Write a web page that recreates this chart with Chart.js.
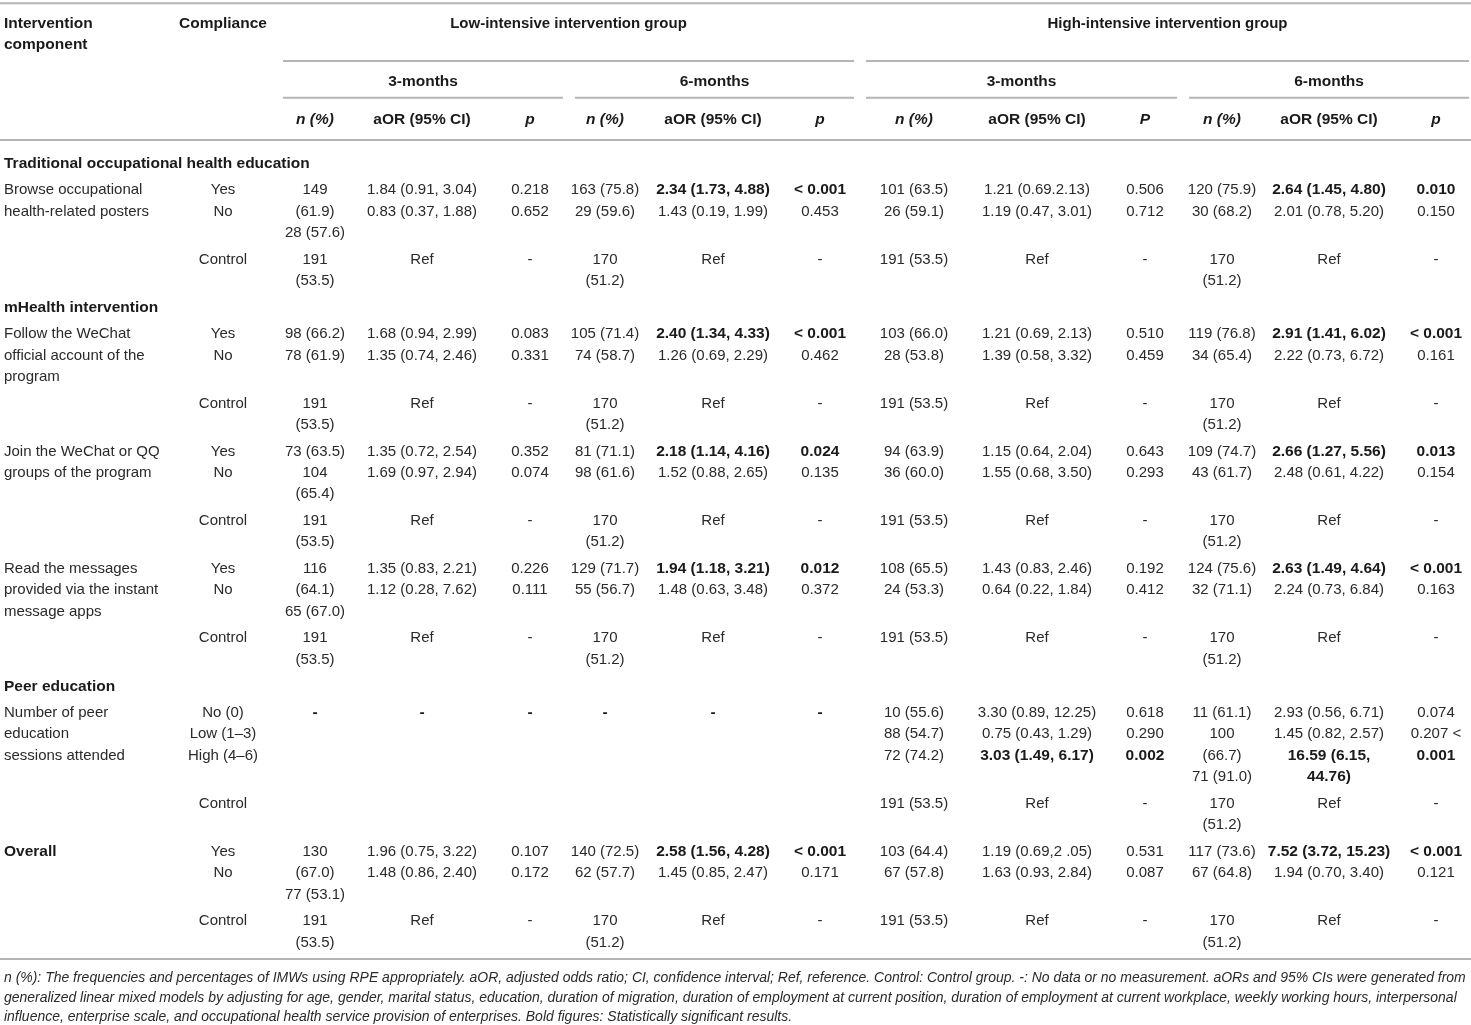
<!DOCTYPE html>
<html>
<head>
<meta charset="utf-8">
<script src="https://cdn.jsdelivr.net/npm/chart.js@4.4.1/dist/chart.umd.min.js"></script>
<style>
  html, body { margin: 0; padding: 0; background: #fff; }
  #wrap { width: 1471px; height: 1025px; }
</style>
</head>
<body>
<div id="wrap"><canvas id="table" width="1471" height="1025"></canvas></div>
<script>
// ---- table content (a leading "**" marks bold figures) ----
const groupHeads = ['Low-intensive intervention group', 'High-intensive intervention group'];
const periodHeads = ['3-months', '6-months', '3-months', '6-months'];
const columnHeads = ['n (%)', 'aOR (95% CI)', 'p', 'n (%)', 'aOR (95% CI)', 'p',
                     'n (%)', 'aOR (95% CI)', 'P', 'n (%)', 'aOR (95% CI)', 'p'];
const italicHeads = ['n (%)', 'p', 'P'];

const controlRow = [[], ['Control'], ['191', '(53.5)'], ['Ref'], ['-'], ['170', '(51.2)'], ['Ref'], ['-'],
                    ['191 (53.5)'], ['Ref'], ['-'], ['170', '(51.2)'], ['Ref'], ['-']];
const peerControlRow = [[], ['Control'], [], [], [], [], [], [],
                        ['191 (53.5)'], ['Ref'], ['-'], ['170', '(51.2)'], ['Ref'], ['-']];

const postersRow = [
  ['Browse occupational', 'health-related posters'], ['Yes', 'No'],
  ['149', '(61.9)', '28 (57.6)'], ['1.84 (0.91, 3.04)', '0.83 (0.37, 1.88)'], ['0.218', '0.652'],
  ['163 (75.8)', '29 (59.6)'], ['**2.34 (1.73, 4.88)', '1.43 (0.19, 1.99)'], ['**< 0.001', '0.453'],
  ['101 (63.5)', '26 (59.1)'], ['1.21 (0.69.2.13)', '1.19 (0.47, 3.01)'], ['0.506', '0.712'],
  ['120 (75.9)', '30 (68.2)'], ['**2.64 (1.45, 4.80)', '2.01 (0.78, 5.20)'], ['**0.010', '0.150']
];
const wechatRow = [
  ['Follow the WeChat', 'official account of the', 'program'], ['Yes', 'No'],
  ['98 (66.2)', '78 (61.9)'], ['1.68 (0.94, 2.99)', '1.35 (0.74, 2.46)'], ['0.083', '0.331'],
  ['105 (71.4)', '74 (58.7)'], ['**2.40 (1.34, 4.33)', '1.26 (0.69, 2.29)'], ['**< 0.001', '0.462'],
  ['103 (66.0)', '28 (53.8)'], ['1.21 (0.69, 2.13)', '1.39 (0.58, 3.32)'], ['0.510', '0.459'],
  ['119 (76.8)', '34 (65.4)'], ['**2.91 (1.41, 6.02)', '2.22 (0.73, 6.72)'], ['**< 0.001', '0.161']
];
const groupsRow = [
  ['Join the WeChat or QQ', 'groups of the program'], ['Yes', 'No'],
  ['73 (63.5)', '104', '(65.4)'], ['1.35 (0.72, 2.54)', '1.69 (0.97, 2.94)'], ['0.352', '0.074'],
  ['81 (71.1)', '98 (61.6)'], ['**2.18 (1.14, 4.16)', '1.52 (0.88, 2.65)'], ['**0.024', '0.135'],
  ['94 (63.9)', '36 (60.0)'], ['1.15 (0.64, 2.04)', '1.55 (0.68, 3.50)'], ['0.643', '0.293'],
  ['109 (74.7)', '43 (61.7)'], ['**2.66 (1.27, 5.56)', '2.48 (0.61, 4.22)'], ['**0.013', '0.154']
];
const messagesRow = [
  ['Read the messages', 'provided via the instant', 'message apps'], ['Yes', 'No'],
  ['116', '(64.1)', '65 (67.0)'], ['1.35 (0.83, 2.21)', '1.12 (0.28, 7.62)'], ['0.226', '0.111'],
  ['129 (71.7)', '55 (56.7)'], ['**1.94 (1.18, 3.21)', '1.48 (0.63, 3.48)'], ['**0.012', '0.372'],
  ['108 (65.5)', '24 (53.3)'], ['1.43 (0.83, 2.46)', '0.64 (0.22, 1.84)'], ['0.192', '0.412'],
  ['124 (75.6)', '32 (71.1)'], ['**2.63 (1.49, 4.64)', '2.24 (0.73, 6.84)'], ['**< 0.001', '0.163']
];
const peerRow = [
  ['Number of peer', 'education', 'sessions attended'], ['No (0)', 'Low (1–3)', 'High (4–6)'],
  ['**-'], ['**-'], ['**-'], ['**-'], ['**-'], ['**-'],
  ['10 (55.6)', '88 (54.7)', '72 (74.2)'], ['3.30 (0.89, 12.25)', '0.75 (0.43, 1.29)', '**3.03 (1.49, 6.17)'],
  ['0.618', '0.290', '**0.002'],
  ['11 (61.1)', '100', '(66.7)', '71 (91.0)'], ['2.93 (0.56, 6.71)', '1.45 (0.82, 2.57)', '**16.59 (6.15,', '**44.76)'],
  ['0.074', '0.207 <', '**0.001']
];
const overallRow = [
  ['**Overall'], ['Yes', 'No'],
  ['130', '(67.0)', '77 (53.1)'], ['1.96 (0.75, 3.22)', '1.48 (0.86, 2.40)'], ['0.107', '0.172'],
  ['140 (72.5)', '62 (57.7)'], ['**2.58 (1.56, 4.28)', '1.45 (0.85, 2.47)'], ['**< 0.001', '0.171'],
  ['103 (64.4)', '67 (57.8)'], ['1.19 (0.69,2 .05)', '1.63 (0.93, 2.84)'], ['0.531', '0.087'],
  ['117 (73.6)', '67 (64.8)'], ['**7.52 (3.72, 15.23)', '1.94 (0.70, 3.40)'], ['**< 0.001', '0.121']
];

const bodyRows = [
  'Traditional occupational health education', postersRow, controlRow,
  'mHealth intervention', wechatRow, controlRow, groupsRow, controlRow, messagesRow, controlRow,
  'Peer education', peerRow, peerControlRow,
  overallRow, controlRow
];

const footnotes = [
  'n (%): The frequencies and percentages of IMWs using RPE appropriately. aOR, adjusted odds ratio; CI, confidence interval; Ref, reference. Control: Control group. -: No data or no measurement. aORs and 95% CIs were generated from',
  'generalized linear mixed models by adjusting for age, gender, marital status, education, duration of migration, duration of employment at current position, duration of employment at current workplace, weekly working hours, interpersonal',
  'influence, enterprise scale, and occupational health service provision of enterprises. Bold figures: Statistically significant results.'
];

// ---- layout ----
const colX = [4, 223, 315, 422, 530, 605, 713, 820, 914, 1037, 1145, 1222, 1329, 1436];
const groupSpans = [[283, 854], [866, 1469]];
const periodSpans = [[283, 563], [575, 854], [866, 1177], [1189, 1469]];
const LINE = 21.4, GAP = 5.2, NUDGE = 1.5;
const FONT = '"Liberation Sans", Arial, Helvetica, sans-serif';
const TEXT = '#2a2a2a', RULE = '#b5b5b5';

const tablePlugin = {
  id: 'tableText',
  afterDraw(chart) {
    const { ctx, scales: { x, y } } = chart;
    const px = v => x.getPixelForValue(v);
    const py = v => y.getPixelForValue(v);

    const text = (str, xv, yv, align, opts = {}) => {
      let bold = opts.bold || false;
      if (str.startsWith('**')) { bold = true; str = str.slice(2); }
      const size = opts.size || (bold ? 15.5 : 15);
      ctx.font = `${opts.italic ? 'italic ' : ''}${bold ? 'bold ' : ''}${size}px ${FONT}`;
      ctx.fillStyle = bold ? '#1a1a1a' : TEXT;
      ctx.textAlign = align;
      ctx.textBaseline = 'middle';
      ctx.fillText(str, px(xv), py(yv + NUDGE));
    };
    const rule = (x0, x1, yv) => {
      ctx.beginPath();
      ctx.moveTo(px(x0), py(yv));
      ctx.lineTo(px(x1), py(yv));
      ctx.stroke();
    };

    ctx.save();
    ctx.strokeStyle = RULE;
    ctx.lineWidth = 2;
    rule(0, 1471, 3.3);
    groupSpans.forEach(s => rule(s[0], s[1], 61));
    periodSpans.forEach(s => rule(s[0], s[1], 97.7));
    rule(0, 1471, 140);
    rule(0, 1471, 959);

    // header
    text('Intervention', colX[0], 22, 'left', { bold: true });
    text('component', colX[0], 43, 'left', { bold: true });
    text('Compliance', colX[1], 22, 'center', { bold: true });
    groupHeads.forEach((h, i) => text(h, (groupSpans[i][0] + groupSpans[i][1]) / 2, 22, 'center', { bold: true, size: 15 }));
    periodHeads.forEach((h, i) => text(h, (periodSpans[i][0] + periodSpans[i][1]) / 2, 80, 'center', { bold: true }));
    columnHeads.forEach((h, i) => text(h, colX[i + 2], 118, 'center', { bold: true, italic: italicHeads.includes(h) }));

    // body
    let yv = 162;
    bodyRows.forEach(row => {
      if (typeof row === 'string') {
        text(row, colX[0], yv, 'left', { bold: true });
        yv += LINE + GAP;
        return;
      }
      const n = Math.max(...row.map(c => c.length));
      row.forEach((cell, c) => {
        cell.forEach((s, i) => text(s, colX[c], yv + i * LINE, c === 0 ? 'left' : 'center'));
      });
      yv += n * LINE + GAP;
    });

    // footnote
    ctx.font = `italic 13px ${FONT}`;
    const fsize = 13 * 1462 / ctx.measureText(footnotes[0]).width;
    footnotes.forEach((f, i) => text(f, 4, 977 + i * 19.5, 'left', { italic: true, size: fsize }));
    ctx.restore();
  }
};

new Chart(document.getElementById('table'), {
  type: 'scatter',
  data: { datasets: [] },
  options: {
    responsive: false,
    animation: false,
    layout: { padding: 0 },
    plugins: { legend: { display: false }, tooltip: { enabled: false } },
    scales: {
      x: { type: 'linear', min: 0, max: 1471, display: false },
      y: { type: 'linear', min: 0, max: 1025, reverse: true, display: false }
    }
  },
  plugins: [tablePlugin]
});
</script>
</body>
</html>
